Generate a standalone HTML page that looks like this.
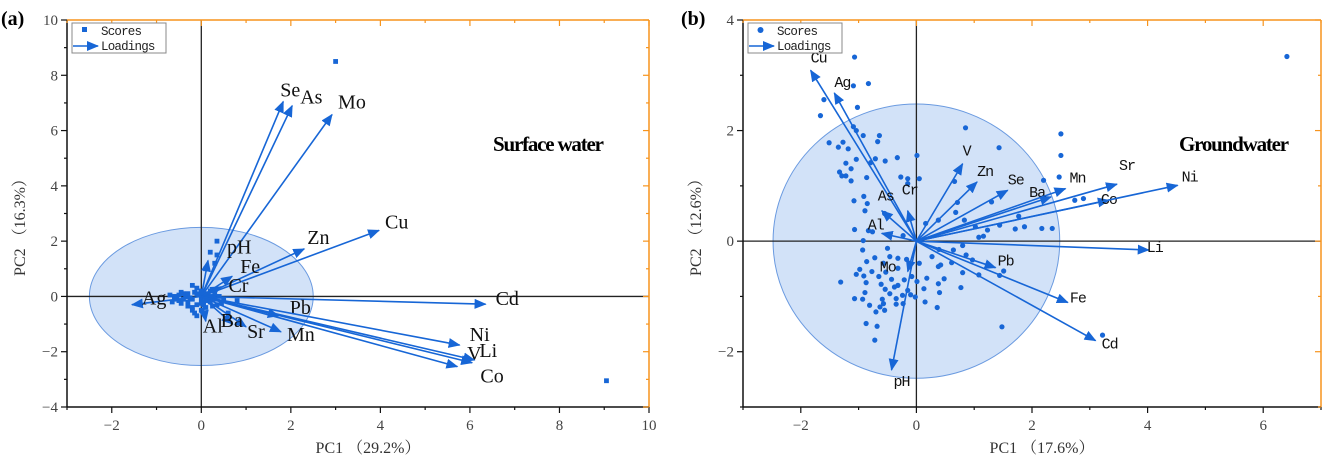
<!DOCTYPE html>
<html><head><meta charset="utf-8"><style>
html,body{margin:0;padding:0;background:#fff;}
svg{display:block;}
text{font-family:"Liberation Serif","Noto Serif CJK SC",serif;}
</style></head><body>
<svg id="fig" width="1325" height="467" viewBox="0 0 1325 467" xmlns="http://www.w3.org/2000/svg">
<defs>
<marker id="ah" viewBox="0 0 12 10" refX="11" refY="5" markerWidth="12" markerHeight="10" markerUnits="userSpaceOnUse" orient="auto"><path d="M0,0 L12,5 L0,10 Z" fill="#1766d6"/></marker>
</defs>
</svg>
<script>
// ---------- Panel (a) data ----------
const aLoadNames = ["Se","As","Mo","Cu","Zn","pH","Fe","Cr","Ag","Cd","Pb","Mn","Sr","Ba","Al","Ni","V","Li","Co"];
const aLoadX = [1.83,2.03,2.92,3.97,2.3,0.15,0.69,0.45,-1.55,6.35,1.73,1.78,1.0,0.7,0.1,5.77,6.05,6.1,5.72];
const aLoadY = [7.05,6.9,6.58,2.39,1.72,1.3,0.73,0.35,-0.3,-0.28,-0.7,-1.28,-1.1,-1.0,-0.9,-1.76,-2.4,-2.3,-2.54];
const aScoreX = [-0.6,-0.5,-0.4,-0.3,-0.2,-0.1,0,-0.5,-0.4,-0.3,-0.2,-0.1,0,0.1,0.2,0.3,0.4,0.5,-0.6,-0.2,-0.1,0,0.1,0.2,0.35,0.2,0.35,0.3,0.6,3.0,9.05,0.1,0.8,-0.15,-0.7,-0.45,0.25,0.15,-0.55,-0.35,-0.25,-0.05,0.05,0.15,0.3,0.45,-0.65,-0.15,0.05,0.2,-0.3,-0.1,0.12,0.35,-0.45,-0.2,0.0,0.25];
const aScoreY = [0,0.05,-0.1,0.1,0.4,0.3,0.2,-0.15,0.1,-0.2,-0.1,-0.3,-0.1,0.1,-0.2,-0.1,0,-0.1,-0.1,-0.5,-0.7,-0.5,-0.4,0.2,2.0,1.6,1.5,1.2,-0.6,8.5,-3.05,1.0,-0.15,-0.6,0.05,-0.25,-0.35,-0.05,-0.05,0.0,-0.05,0.05,-0.2,0.05,0.1,-0.25,-0.2,0.15,-0.3,-0.05,-0.35,0.1,-0.15,-0.3,0.15,-0.4,-0.25,0.0];
const aXTicks = [-2,0,2,4,6,8,10];
const aYTicks = [-4,-2,0,2,4,6,8,10];
// ---------- Panel (b) data ----------
const bLoadNames = ["Cu","Ag","As","Cr","Al","V","Zn","Se","Ba","Mn","Sr","Co","Ni","Li","Pb","Fe","Cd","Mo","pH"];
const bLoadX = [-1.83,-1.42,-0.6,-0.15,-0.6,0.8,1.05,1.58,2.33,2.58,3.47,3.33,4.52,4.02,1.37,2.62,3.1,-0.15,-0.43];
const bLoadY = [3.09,2.68,0.55,0.55,0.14,1.4,1.07,0.92,0.8,0.95,1.03,0.74,1.01,-0.16,-0.48,-1.11,-1.8,-0.55,-2.33];
const bScoreX = [-1.07,6.41,-0.83,-1.09,-1.6,-1.02,-1.66,-1.09,0.85,2.5,-1.04,-0.92,-0.64,-1.51,-1.27,-0.67,-1.35,-1.18,1.43,0.01,2.5,-0.33,-1.04,-0.71,-1.22,-0.54,-0.79,-1.13,-1.33,-1.29,-1.22,-1.13,-0.86,-0.27,-0.15,0.05,2.47,2.2,0.66,-0.15,-0.91,-1.08,-0.85,0.71,1.3,2.74,2.89,-0.89,-0.55,0.68,0.38,0.83,1.44,1.77,1.71,1.87,2.17,2.35,1.23,1.02,1.16,1.08,-1.07,-0.83,-0.76,0.16,-0.92,-0.23,0.8,0.64,0.86,0.97,0.39,-0.93,-0.5,0.27,-0.72,-0.46,-0.32,-0.17,-0.86,-0.57,0.05,-0.98,-0.77,-0.32,0.38,0.61,0.42,0.8,1.08,1.44,1.51,-1.04,-0.91,-0.65,-0.53,-0.43,-0.21,-0.08,0.18,0.48,-1.31,-0.87,-0.61,-0.32,0.01,0.38,-0.54,-0.38,-0.15,0.13,0.77,-0.89,-0.46,-0.24,-0.1,0.4,-1.07,-0.93,-0.59,-0.35,-0.02,-0.57,-0.35,-0.23,0.15,-0.81,-0.63,0.36,-0.7,-0.55,-0.87,-0.68,1.48,-0.72,3.22];
const bScoreY = [3.33,3.34,2.85,2.81,2.56,2.42,2.27,2.07,2.05,1.94,2.0,1.91,1.91,1.78,1.79,1.8,1.7,1.67,1.69,1.55,1.55,1.51,1.48,1.49,1.41,1.45,1.42,1.31,1.25,1.18,1.18,1.09,1.15,1.16,1.13,1.13,1.16,1.1,1.08,1.04,0.81,0.73,0.68,0.7,0.71,0.74,0.77,0.55,0.5,0.52,0.38,0.38,0.29,0.45,0.22,0.26,0.23,0.23,0.2,0.26,0.09,0.07,0.21,0.19,0.17,0.32,0.01,0.1,-0.08,-0.16,-0.25,-0.34,-0.15,-0.16,-0.13,-0.28,-0.3,-0.28,-0.31,-0.33,-0.37,-0.4,-0.4,-0.51,-0.55,-0.49,-0.46,-0.39,-0.43,-0.57,-0.61,-0.62,-0.54,-0.6,-0.63,-0.64,-0.56,-0.69,-0.7,-0.64,-0.67,-0.68,-0.74,-0.75,-0.78,-0.8,-0.73,-0.77,-0.87,-0.83,-0.89,-0.86,-0.84,-0.93,-0.95,-0.98,-0.97,-0.93,-1.04,-1.05,-1.05,-1.04,-1.01,-1.13,-1.14,-1.13,-1.1,-1.16,-1.19,-1.2,-1.28,-1.25,-1.49,-1.54,-1.55,-1.79,-1.7];
const bXTicks = [-2,0,2,4,6];
const bYTicks = [-2,0,2,4];

const NS = "http://www.w3.org/2000/svg";
const svg = document.getElementById('fig');
const BLUE = "#1766d6", ORANGE = "#f7941d";
function mk(tag, attrs, parent){const e=document.createElementNS(NS,tag);for(const k in attrs)e.setAttribute(k,attrs[k]);(parent||svg).appendChild(e);return e;}

function panel(o){
  const g = mk('g',{});
  
  
  const sx = v => o.L + (v - o.xmin) / (o.xmax - o.xmin) * (o.R - o.L);
  const sy = v => o.B - (v - o.ymin) / (o.ymax - o.ymin) * (o.B - o.T);
  const el = mk('ellipse',{cx:sx(0),cy:sy(0),rx:(sx(o.er)-sx(-o.er))/2,ry:(sy(-o.er)-sy(o.er))/2,fill:"#d2e2f8",stroke:"#6a9ae0","stroke-width":1},g);
  
  
  const zx = mk('line',{x1:sx(0),x2:sx(0),y1:o.T,y2:o.B,stroke:"#222","stroke-width":1.3},g);
  
  
  const zy = mk('line',{x1:o.L,x2:o.R,y1:sy(0),y2:sy(0),stroke:"#222","stroke-width":1.3},g);
  
  
  for(let i=0;i<o.sx.length;i++){
    let m;
    if(o.square) m = mk('rect',{x:sx(o.sx[i])-2.4,y:sy(o.sy[i])-2.4,width:4.8,height:4.8,fill:BLUE},g);
    else m = mk('circle',{cx:sx(o.sx[i]),cy:sy(o.sy[i]),r:2.6,fill:BLUE},g);
    
    
  }
  for(let i=0;i<o.ln.length;i++){
    const a = mk('line',{x1:sx(0),y1:sy(0),x2:sx(o.lx[i]),y2:sy(o.ly[i]),stroke:BLUE,"stroke-width":1.6,"marker-end":"url(#ah)"},g);
    
    
    const off = o.off[o.ln[i]] || [4,-4];
    const t = mk('text',{x:sx(o.lx[i])+off[0],y:sy(o.ly[i])+off[1],"font-size":o.lfs,fill:"#111"},g);
    if(o.mono) t.setAttribute('style','font-family:"Liberation Mono","Noto Serif CJK SC",monospace;letter-spacing:-1px');
    t.textContent = o.ln[i];
    
    
  }
  mk('line',{x1:o.L,y1:o.T,x2:o.R,y2:o.T,stroke:ORANGE,"stroke-width":1.5},g);
  mk('line',{x1:o.R,y1:o.T,x2:o.R,y2:o.B,stroke:ORANGE,"stroke-width":1.5},g);
  const ax = mk('line',{x1:o.L,y1:o.B,x2:o.R,y2:o.B,stroke:"#111","stroke-width":1.5},g);
  
  
  const ay = mk('line',{x1:o.L,y1:o.T,x2:o.L,y2:o.B,stroke:"#111","stroke-width":1.5},g);
  
  
  for(let v=Math.ceil(o.xmin); v<=o.xmax; v+=1){
    const major = o.xt.includes(v);
    const len = major?6:3;
    mk('line',{x1:sx(v),x2:sx(v),y1:o.B,y2:o.B+len,stroke:"#111","stroke-width":1.2},g);
    mk('line',{x1:sx(v),x2:sx(v),y1:o.T,y2:o.T+len,stroke:ORANGE,"stroke-width":1.2},g);
  }
  for(let v=Math.ceil(o.ymin); v<=o.ymax; v+=1){
    const major = o.yt.includes(v);
    const len = major?6:3;
    mk('line',{x1:o.L,x2:o.L-len,y1:sy(v),y2:sy(v),stroke:"#111","stroke-width":1.2},g);
    mk('line',{x1:o.R,x2:o.R-len,y1:sy(v),y2:sy(v),stroke:ORANGE,"stroke-width":1.2},g);
  }
  o.xt.forEach(v=>{
    const t = mk('text',{x:sx(v),y:o.B+23,"font-size":15,fill:"#444","text-anchor":"middle"},g);
    t.textContent = v<0?('\u2212'+(-v)):String(v);
    
    
  });
  o.yt.forEach(v=>{
    const t = mk('text',{x:o.L-9,y:sy(v)+5,"font-size":15,fill:"#444","text-anchor":"end"},g);
    t.textContent = v<0?('\u2212'+(-v)):String(v);
    
    
  });
  const xt = mk('text',{x:(o.L+o.R)/2+10,y:o.B+46,"font-size":16,fill:"#333","text-anchor":"middle"},g);
  xt.textContent = o.xtitle;
  
  
  const yt = mk('text',{x:0,y:0,"font-size":16,fill:"#333","text-anchor":"middle",transform:`translate(${o.L-42},${(o.T+o.B)/2+10}) rotate(-90)`},g);
  yt.textContent = o.ytitle;
  
  
  const pt = mk('text',{x:o.tx,y:151,"font-size":21,"font-weight":"bold",fill:"#000","letter-spacing":"-1.2"},g);
  pt.textContent = o.title;
  
  
  const pl = mk('text',{x:o.lblx,y:25,"font-size":20,"font-weight":"bold",fill:"#000"},g);
  pl.textContent = o.label;
  
  
  const lg = mk('g',{},g);
  
  
  const lx = o.L+5;
  mk('rect',{x:lx,y:23,width:94,height:30,fill:"#fff",stroke:"#888","stroke-width":1},lg);
  if(o.square) mk('rect',{x:lx+10,y:27,width:5,height:5,fill:BLUE},lg);
  else mk('circle',{cx:lx+12.5,cy:30,r:3,fill:BLUE},lg);
  mk('line',{x1:lx+1,y1:46,x2:lx+26,y2:46,stroke:BLUE,"stroke-width":1.6,"marker-end":"url(#ah)"},lg);
  const s1 = mk('text',{x:lx+29,y:35,"font-size":12.5,fill:"#222",style:'font-family:"Liberation Mono","Noto Serif CJK SC",monospace;letter-spacing:-0.8px'},lg);
  s1.textContent="Scores";
  
  
  const s2 = mk('text',{x:lx+29,y:50,"font-size":12.5,fill:"#222",style:'font-family:"Liberation Mono","Noto Serif CJK SC",monospace;letter-spacing:-0.8px'},lg);
  s2.textContent="Loadings";
  
  
}

panel({name:'panel-a-surface-water',L:67,R:649,T:20,B:407,xmin:-3,xmax:10,ymin:-4,ymax:10,
  xt:aXTicks,yt:aYTicks,sx:aScoreX,sy:aScoreY,lx:aLoadX,ly:aLoadY,ln:aLoadNames,square:true,er:2.5,lfs:20,
  off:{Se:[-3,-5],As:[8,-2],Mo:[6,-6],Cu:[6,-2],Zn:[3,-5],pH:[19,-7],Fe:[8,-3],Cr:[7,5],Ag:[10,0],Cd:[10,1],Pb:[11,-2],Mn:[6,9],Sr:[1,11],Ba:[-12,3],Al:[-3,11],Ni:[10,-4],V:[-5,-3],Li:[5,-3],Co:[23,16]},
  xtitle:'PC1 \uFF0829.2%\uFF09',ytitle:'PC2 \uFF0816.3%\uFF09',title:'Surface water',tx:493,label:'(a)',lblx:1});
panel({name:'panel-b-groundwater',L:743,R:1321,T:20,B:407,xmin:-3,xmax:7,ymin:-3,ymax:4,
  xt:bXTicks,yt:bYTicks,sx:bScoreX,sy:bScoreY,lx:bLoadX,ly:bLoadY,ln:bLoadNames,square:false,er:2.48,lfs:15,mono:true,
  off:{Cu:[0,-8],Ag:[0,-6],As:[-4,-10],Cr:[-6,-16],Al:[-14,-4],V:[0,-8],Zn:[0,-6],Se:[0,-6],Ba:[-22,0],Mn:[4,-6],Sr:[2,-14],Co:[-8,4],Ni:[4,-4],Li:[-2,2],Pb:[2,-2],Fe:[2,0],Cd:[6,8],Mo:[-28,0],pH:[2,16]},
  xtitle:'PC1 \uFF0817.6%\uFF09',ytitle:'PC2 \uFF0812.6%\uFF09',title:'Groundwater',tx:1179,label:'(b)',lblx:681});
</script>
</body></html>
